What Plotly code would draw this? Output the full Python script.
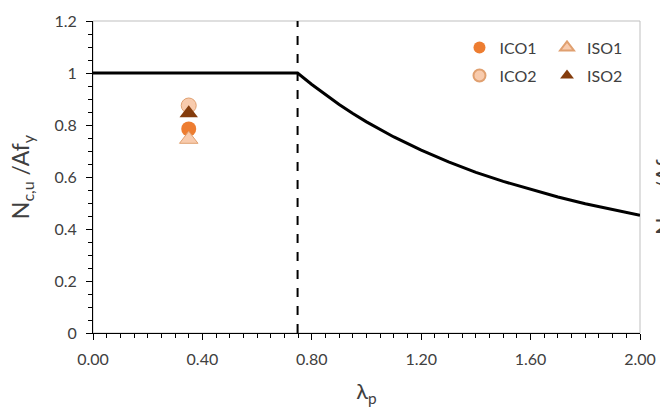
import plotly.graph_objects as go

# Design curve
curve_x = [0.0, 0.748, 0.80, 0.85, 0.90, 0.95, 1.00, 1.10, 1.20, 1.30, 1.40, 1.50, 1.60, 1.70, 1.80, 1.90, 2.00]
curve_y = [1.0, 1.0, 0.956, 0.916, 0.879, 0.844, 0.812, 0.754, 0.703, 0.658, 0.618, 0.583, 0.552, 0.523, 0.497, 0.474, 0.453]

# Limit slenderness (dashed line)
limit_x = [0.748, 0.748]
limit_y = [0.0, 1.2]

# Test results
lam_p = 0.35
ico1 = 0.785
ico2 = 0.875
iso1 = 0.745
iso2 = 0.845

x_ticks = [0.0, 0.4, 0.8, 1.2, 1.6, 2.0]
y_ticks = [0, 0.2, 0.4, 0.6, 0.8, 1.0, 1.2]

txt = "#404040"
fnt = "Lato"

fig = go.Figure()
fig.add_trace(go.Scatter(x=curve_x, y=curve_y, mode="lines",
                         line=dict(color="black", width=3), showlegend=False, hoverinfo="skip"))
fig.add_trace(go.Scatter(x=limit_x, y=limit_y, mode="lines",
                         line=dict(color="black", width=2, dash="dash"), showlegend=False, hoverinfo="skip"))

fig.add_trace(go.Scatter(x=[lam_p], y=[ico2], mode="markers", name="ICO2", legend="legend3",
                         marker=dict(symbol="circle", size=15, color="#F8CBAD", line=dict(color="#E0A070", width=1))))
fig.add_trace(go.Scatter(x=[lam_p], y=[iso2], mode="markers", name="ISO2", legend="legend4",
                         marker=dict(symbol="triangle-up", size=16, color="#843C0C", line=dict(width=0))))
fig.add_trace(go.Scatter(x=[lam_p], y=[ico1], mode="markers", name="ICO1", legend="legend",
                         marker=dict(symbol="circle", size=15, color="#ED7D31", line=dict(width=0))))
fig.add_trace(go.Scatter(x=[lam_p], y=[iso1], mode="markers", name="ISO1", legend="legend2",
                         marker=dict(symbol="triangle-up", size=16, color="#F8CBAD", line=dict(color="#E0A070", width=1))))

# plot area frame (top/right in light gray)
fig.add_shape(type="rect", xref="paper", yref="paper", x0=0, x1=1, y0=0, y1=1,
              line=dict(color="#BFBFBF", width=1), layer="below")

axis_common = dict(showgrid=False, zeroline=False, showline=True, linecolor="black", linewidth=1,
                   ticks="outside", tickcolor="black", ticklen=6, tickwidth=1, automargin=False,
                   tickfont=dict(family=fnt, size=16, color=txt))

leg_common = dict(xanchor="left", yanchor="middle", bgcolor="rgba(0,0,0,0)", itemsizing="constant",
                  font=dict(family=fnt, size=16, color=txt), itemwidth=30)

fig.update_layout(
    width=660, height=418,
    margin=dict(l=93, r=20, t=21, b=85),
    plot_bgcolor="white", paper_bgcolor="white",
    xaxis=dict(range=[0, 2.0], tickvals=x_ticks, tickformat=".2f", ticklabelstandoff=6,
               minor=dict(dtick=0.05, ticks="outside", ticklen=4, tickcolor="black"),
               title=dict(text="λ<sub>p</sub>", font=dict(family=fnt, size=22, color=txt), standoff=16),
               **axis_common),
    yaxis=dict(range=[0, 1.2], tickvals=y_ticks, tickformat="", ticklabelstandoff=6,
               minor=dict(dtick=0.05, ticks="outside", ticklen=4, tickcolor="black"),
               title=dict(text="N<sub>c,u</sub> /Af<sub>y</sub>", font=dict(family=fnt, size=23, color=txt), standoff=18),
               **axis_common),
    legend=dict(x=0.67, y=0.915, **leg_common),
    legend2=dict(x=0.83, y=0.915, **leg_common),
    legend3=dict(x=0.67, y=0.825, **leg_common),
    legend4=dict(x=0.83, y=0.825, **leg_common),
)

# fragment of the neighbouring chart's axis title at the right edge
fig.add_annotation(xref="paper", yref="paper", x=1.0, xshift=8, xanchor="left", y=0.45, showarrow=False,
                   text="N<sub>c,u</sub> /Af<sub>y</sub>", textangle=-90,
                   font=dict(family=fnt, size=23, color=txt))

fig.write_html("out.html")
